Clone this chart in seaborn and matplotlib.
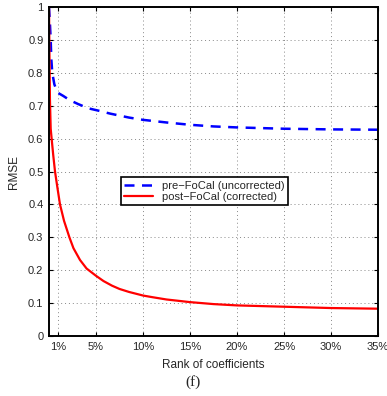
import matplotlib
matplotlib.use("Agg")
import matplotlib.pyplot as plt
import seaborn as sns
import pandas as pd

# Rank of retained coefficients (%) and RMSE for each method
pre_rank = [0, 0.1, 0.18, 0.25, 0.35, 0.57, 0.9, 1.5, 2.2, 3.1, 4.2, 5.4,
            6.5, 7.5, 8.5, 10, 12.5, 15, 17.5, 20, 25, 30, 35]
pre_rmse = [1.0, 0.95, 0.9, 0.84, 0.8, 0.765, 0.74, 0.73, 0.717, 0.705, 0.692,
            0.684, 0.676, 0.67, 0.664, 0.657, 0.649, 0.642, 0.637, 0.634,
            0.630, 0.628, 0.627]

post_rank = [0, 0.05, 0.1, 0.18, 0.28, 0.45, 0.64, 0.9, 1.17, 1.6, 2.17, 2.6,
             3.3, 4.0, 5, 5.8, 6.7, 7.5, 8.5, 10, 11, 12.5, 15, 17.5, 20,
             25, 30, 35]
post_rmse = [1.0, 0.85, 0.72, 0.63, 0.6, 0.55, 0.5, 0.45, 0.4, 0.35, 0.3,
             0.267, 0.231, 0.205, 0.183, 0.167, 0.153, 0.143, 0.134, 0.123,
             0.118, 0.111, 0.103, 0.097, 0.093, 0.089, 0.085, 0.083]

xtick_vals = [1, 5, 10, 15, 20, 25, 30, 35]
xtick_labels = [f"{v}%" for v in xtick_vals]
ytick_vals = [0, 0.1, 0.2, 0.3, 0.4, 0.5, 0.6, 0.7, 0.8, 0.9, 1]
ytick_labels = ["0", "0.1", "0.2", "0.3", "0.4", "0.5", "0.6", "0.7", "0.8", "0.9", "1"]

pre_label = "pre\u2212FoCal (uncorrected)"
post_label = "post\u2212FoCal (corrected)"

pre_df = pd.DataFrame({"rank": pre_rank, "rmse": pre_rmse})
post_df = pd.DataFrame({"rank": post_rank, "rmse": post_rmse})

sns.set_style("ticks")
plt.rcParams["font.family"] = ["Liberation Sans", "DejaVu Sans"]
plt.rcParams["xtick.direction"] = "in"
plt.rcParams["ytick.direction"] = "in"

fig = plt.figure(figsize=(3.87, 3.96), dpi=100)
ax = fig.add_axes([0.1266, 0.1515, 0.8504, 0.8308])

sns.lineplot(data=pre_df, x="rank", y="rmse", ax=ax, color="#0000ff",
             linewidth=1.8, linestyle=(0, (4, 3)), label=pre_label)
sns.lineplot(data=post_df, x="rank", y="rmse", ax=ax, color="#ff0000",
             linewidth=1.6, label=post_label)

ax.set_xlim(0, 35)
ax.set_ylim(0, 1)
ax.set_xticks(xtick_vals)
ax.set_xticklabels(xtick_labels, fontsize=8)
ax.set_yticks(ytick_vals)
ax.set_yticklabels(ytick_labels, fontsize=8)
ax.tick_params(top=True, right=True, length=3, width=0.8, color="black", pad=4)
ax.grid(True, linestyle=(0, (1, 3)), color="#888888", linewidth=0.7)

for side in ax.spines.values():
    side.set_visible(True)
    side.set_linewidth(1.4)
    side.set_color("black")

ax.set_xlabel("Rank of coefficients", fontsize=8.5, labelpad=5)
ax.set_ylabel("RMSE", fontsize=8.5, labelpad=6)

leg = ax.legend(loc="lower left", bbox_to_anchor=(0.218, 0.398), fontsize=8,
                frameon=True, fancybox=False, framealpha=1, borderpad=0.3,
                handlelength=2.6, labelspacing=0.1, borderaxespad=0)
leg.get_frame().set_edgecolor("black")
leg.get_frame().set_linewidth(1.2)

fig.text(0.5, 0.035, "(f)", ha="center", va="center", fontsize=11,
         family=["Liberation Serif", "DejaVu Serif"])

fig.savefig("out.png", dpi=100)
